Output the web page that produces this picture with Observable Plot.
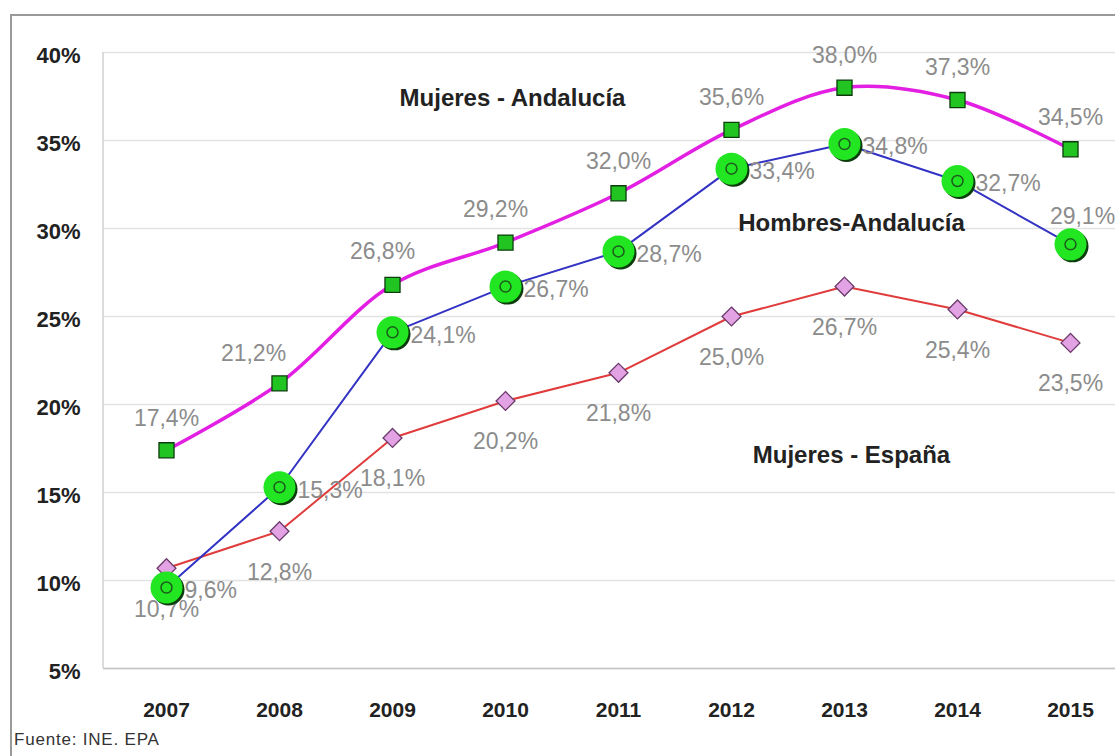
<!DOCTYPE html>
<html>
<head>
<meta charset="utf-8">
<script src="https://cdn.jsdelivr.net/npm/d3@7"></script>
<script src="https://cdn.jsdelivr.net/npm/@observablehq/plot@0.6"></script>
<style>
  html, body { margin: 0; padding: 0; background: #fff; }
  #wrap { position: relative; width: 1115px; height: 756px; overflow: hidden; background: #fff; }
  #border { position: absolute; left: 10px; top: 14px; width: 1200px; height: 800px; border-left: 2px solid #9a9a9a; border-top: 2px solid #9a9a9a; }
  #chart { position: absolute; left: 0; top: 0; }
  #source { position: absolute; left: 14px; top: 730px; font-family: "Liberation Sans", Arial, sans-serif; font-size: 17px; color: #333; letter-spacing: 0.8px; }
</style>
</head>
<body>
<div id="wrap">
  <div id="border"></div>
  <div id="chart"></div>
  <div id="source">Fuente: INE. EPA</div>
</div>
<script>
const years = ["2007", "2008", "2009", "2010", "2011", "2012", "2013", "2014", "2015"];
const mujeresAndalucia = [17.4, 21.2, 26.8, 29.2, 32.0, 35.6, 38.0, 37.3, 34.5];
const hombresAndalucia = [9.6, 15.3, 24.1, 26.7, 28.7, 33.4, 34.8, 32.7, 29.1];
const mujeresEspana = [10.7, 12.8, 18.1, 20.2, 21.8, 25.0, 26.7, 25.4, 23.5];
const yTicks = [5, 10, 15, 20, 25, 30, 35, 40];
const seriesNames = ["Mujeres - Andalucía", "Hombres-Andalucía", "Mujeres - España"];
// annotation anchors (category, value) for the series names
const nameYears = ["2010", "2013", "2013"];
const nameValues = [37.4, 30.3, 17.1];

const fmt = v => v.toFixed(1).replace(".", ",") + "%";
const toRows = vals => years.map((year, i) => ({year, value: vals[i]}));
const ma = toRows(mujeresAndalucia);
const ha = toRows(hombresAndalucia);
const me = toRows(mujeresEspana);
const names = seriesNames.map((name, i) => ({name, year: nameYears[i], value: nameValues[i]}));

const labelStyle = {fontSize: 23, fill: "#8c8c8c", text: d => fmt(d.value)};

// left axis line drawn at the frame's left edge
const leftAxisLine = (index, scales, values, dims) => {
  const y = scales.y;
  return d3.create("svg:line")
    .attr("x1", dims.marginLeft).attr("x2", dims.marginLeft)
    .attr("y1", y(d3.max(yTicks))).attr("y2", y(d3.min(yTicks)))
    .attr("stroke", "#d0d0d0").attr("stroke-width", 1.5)
    .node();
};

const shiftedMA = ["2008"];
const slightMA = ["2009", "2010"];

const chart = Plot.plot({
  width: 1115,
  height: 730,
  marginLeft: 103,
  marginRight: 0,
  marginTop: 52,
  marginBottom: 62,
  style: {fontFamily: "'Liberation Sans', Arial, sans-serif", background: "transparent", overflow: "visible"},
  x: {type: "point", domain: years, range: [163, 1072], padding: 0},
  y: {domain: [5, 40]},
  marks: [
    Plot.ruleY(yTicks, {stroke: "#e2e2e2", strokeWidth: 1.5}),
    Plot.ruleY([5], {stroke: "#c4c4c4", strokeWidth: 1.5}),
    leftAxisLine,
    Plot.axisY({ticks: yTicks, tickSize: 0, tickPadding: 23, tickFormat: d => d + "%", fontSize: 22, fontWeight: "bold", fill: "#222", label: null, dy: 3}),
    Plot.axisX({tickSize: 0, tickPadding: 34, fontSize: 21, fontWeight: "bold", fill: "#222", label: null}),

    // Mujeres - España
    Plot.line(me, {x: "year", y: "value", stroke: "#e03c3c", strokeWidth: 2}),
    Plot.dot(me, {x: "year", y: "value", symbol: "diamond2", r: 8.5, fill: "#e3a2e3", stroke: "#6a3a6a", strokeWidth: 1.3}),
    Plot.text(me, {x: "year", y: "value", ...labelStyle, dy: 41}),

    // Hombres-Andalucía
    Plot.line(ha, {x: "year", y: "value", stroke: "#3232c4", strokeWidth: 2}),
    Plot.text(ha.filter(d => d.year !== "2015"), {x: "year", y: "value", ...labelStyle, textAnchor: "start", dx: 18, dy: 3}),
    Plot.text(ha.filter(d => d.year === "2015"), {x: "year", y: "value", ...labelStyle, dx: 12, dy: -28}),
    Plot.dot(ha, {x: "year", y: "value", r: 16, fill: "#0d3d0d", dx: 2, dy: 2}),
    Plot.dot(ha, {x: "year", y: "value", r: 16, fill: "#22e622"}),
    Plot.dot(ha, {x: "year", y: "value", r: 5.5, fill: "none", stroke: "#1c5c1c", strokeWidth: 1.5}),

    // Mujeres - Andalucía
    Plot.line(ma, {x: "year", y: "value", stroke: "#e21fe2", strokeWidth: 3.5, curve: "catmull-rom"}),
    Plot.dot(ma, {x: "year", y: "value", symbol: "square", r: 8.5, fill: "#22c422", stroke: "#0c3c0c", strokeWidth: 1.3}),
    Plot.text(ma.filter(d => !shiftedMA.includes(d.year) && !slightMA.includes(d.year)), {x: "year", y: "value", ...labelStyle, dy: -32}),
    Plot.text(ma.filter(d => shiftedMA.includes(d.year)), {x: "year", y: "value", ...labelStyle, dx: -26, dy: -30}),
    Plot.text(ma.filter(d => slightMA.includes(d.year)), {x: "year", y: "value", ...labelStyle, dx: -10, dy: -33}),

    // Series names
    Plot.text(names, {x: "year", y: "value", text: "name", fontSize: 24, fontWeight: "bold", fill: "#222", dx: 7})
  ]
});
document.getElementById("chart").appendChild(chart);
</script>
</body>
</html>
